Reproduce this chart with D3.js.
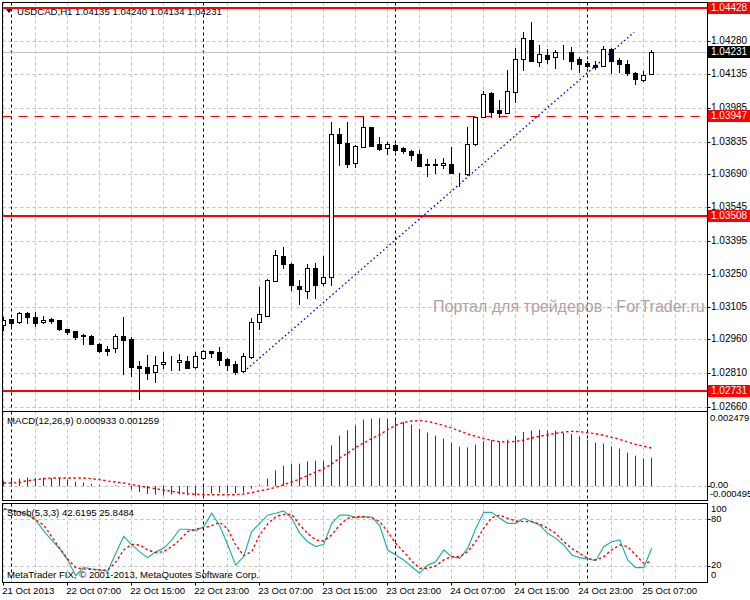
<!DOCTYPE html>
<html><head><meta charset="utf-8">
<script src="https://cdn.jsdelivr.net/npm/d3@7"></script>
<style>
body{margin:0;background:#fff}
svg{display:block}
text{font-family:"Liberation Sans",Arial,sans-serif}
</style>
</head><body>
<svg id="c" width="750" height="600"></svg>
<script>
// ---------- DATA ----------
const symbolTitle = "USDCAD,H1";
const openP  = [1.03023,1.03048,1.03035,1.03075,1.03060,1.03035,1.03051,1.03045,1.03004,1.02996,
                1.02977,1.02975,1.02939,1.02917,1.02920,1.02975,1.02961,1.02842,1.02836,1.02813,
                1.02849,1.02855,1.02858,1.02864,1.02838,1.02878,1.02908,1.02904,1.02873,1.02851,
                1.02820,1.02883,1.03035,1.03064,1.03220,1.03329,1.03294,1.03196,1.03175,1.03274,
                1.03208,1.03237,1.03868,1.03828,1.03739,1.03813,1.03899,1.03825,1.03806,1.03820,
                1.03806,1.03794,1.03780,1.03735,1.03733,1.03730,1.03735,1.03696,1.03690,1.03823,
                1.03943,1.04049,1.03975,1.03961,1.04056,1.04200,1.04285,1.04189,1.04219,1.04208,
                1.04231,1.04231,1.04200,1.04183,1.04174,1.04169,1.04244,1.04196,1.04177,1.04138,
                1.04109,1.04135];
const highP  = [1.03057,1.03050,1.03081,1.03079,1.03080,1.03063,1.03055,1.03047,1.03005,1.02998,
                1.02983,1.02977,1.02945,1.02930,1.02983,1.03060,1.02971,1.02864,1.02890,1.02887,
                1.02904,1.02886,1.02895,1.02886,1.02905,1.02913,1.02910,1.02926,1.02875,1.02864,
                1.02898,1.03053,1.03193,1.03225,1.03356,1.03367,1.03296,1.03223,1.03294,1.03297,
                1.03329,1.03921,1.03894,1.03921,1.03820,1.03949,1.03901,1.03854,1.03835,1.03825,
                1.03810,1.03798,1.03798,1.03758,1.03757,1.03761,1.03813,1.03698,1.03901,1.03944,
                1.04061,1.04056,1.04019,1.04152,1.04248,1.04319,1.04363,1.04263,1.04244,1.04241,
                1.04263,1.04253,1.04211,1.04191,1.04192,1.04258,1.04248,1.04204,1.04196,1.04145,
                1.04148,1.04240];
const lowP   = [1.03001,1.03015,1.03032,1.03033,1.03020,1.03034,1.03033,1.03003,1.02982,1.02960,
                1.02938,1.02937,1.02905,1.02889,1.02905,1.02805,1.02799,1.02694,1.02786,1.02770,
                1.02834,1.02824,1.02824,1.02833,1.02834,1.02873,1.02882,1.02846,1.02824,1.02806,
                1.02816,1.02876,1.03004,1.03062,1.03218,1.03277,1.03178,1.03116,1.03141,1.03144,
                1.03200,1.03200,1.03732,1.03724,1.03724,1.03811,1.03814,1.03798,1.03780,1.03795,
                1.03786,1.03754,1.03728,1.03684,1.03697,1.03720,1.03694,1.03640,1.03689,1.03822,
                1.03942,1.03943,1.03943,1.03960,1.04012,1.04152,1.04192,1.04171,1.04182,1.04160,
                1.04201,1.04157,1.04145,1.04166,1.04155,1.04168,1.04140,1.04145,1.04130,1.04089,
                1.04104,1.04134];
const closeP = [1.03045,1.03033,1.03075,1.03057,1.03033,1.03045,1.03042,1.03004,1.02994,1.02972,
                1.02975,1.02938,1.02909,1.02909,1.02975,1.02956,1.02839,1.02835,1.02809,1.02846,
                1.02859,1.02856,1.02868,1.02834,1.02886,1.02908,1.02898,1.02868,1.02846,1.02816,
                1.02886,1.03035,1.03071,1.03223,1.03331,1.03292,1.03200,1.03181,1.03274,1.03200,
                1.03234,1.03868,1.03828,1.03736,1.03816,1.03901,1.03816,1.03802,1.03823,1.03798,
                1.03795,1.03776,1.03729,1.03733,1.03734,1.03739,1.03695,1.03695,1.03823,1.03943,
                1.04045,1.03968,1.03963,1.04059,1.04200,1.04293,1.04193,1.04223,1.04201,1.04231,
                1.04230,1.04193,1.04179,1.04171,1.04167,1.04244,1.04193,1.04180,1.04140,1.04111,
                1.04129,1.04231];

const macdMain = [0.000167,0.000201,0.000234,0.000279,0.000256,0.000267,0.000256,0.000245,0.000201,0.000134,
                  0.000100,0.000067,0.000022,0.000005,0.000011,-0.000011,-0.000134,-0.000212,-0.000279,-0.000301,
                  -0.000323,-0.000301,-0.000290,-0.000323,-0.000334,-0.000334,-0.000267,-0.000234,-0.000245,-0.000245,
                  -0.000234,-0.000100,0.000020,0.000234,0.000512,0.000668,0.000735,0.000735,0.000813,0.000836,
                  0.000836,0.001348,0.001671,0.001849,0.002016,0.002206,0.002239,0.002261,0.002239,0.002206,
                  0.002128,0.002039,0.001905,0.001771,0.001671,0.001571,0.001437,0.001303,0.001281,0.001370,
                  0.001482,0.001515,0.001482,0.001537,0.001671,0.001794,0.001838,0.001872,0.001838,0.001838,
                  0.001760,0.001727,0.001649,0.001537,0.001437,0.001404,0.001315,0.001237,0.001103,0.001003,
                  0.000913,0.000933];
const macdSignal = [0.000089,0.000089,0.000111,0.000167,0.000201,0.000234,0.000256,0.000256,0.000256,0.000256,
                    0.000256,0.000234,0.000201,0.000156,0.000123,0.000089,0.000033,-0.000011,-0.000056,-0.000100,
                    -0.000145,-0.000189,-0.000234,-0.000267,-0.000290,-0.000301,-0.000301,-0.000301,-0.000301,-0.000301,
                    -0.000279,-0.000234,-0.000167,-0.000123,-0.000056,0.000033,0.000123,0.000223,0.000345,0.000457,
                    0.000568,0.000724,0.000925,0.001092,0.001281,0.001426,0.001571,0.001704,0.001872,0.002016,
                    0.002117,0.002161,0.002172,0.002150,0.002083,0.002016,0.001927,0.001827,0.001727,0.001649,
                    0.001571,0.001515,0.001470,0.001459,0.001482,0.001526,0.001593,0.001649,0.001704,0.001749,
                    0.001794,0.001816,0.001805,0.001771,0.001738,0.001682,0.001615,0.001548,0.001459,0.001381,
                    0.001315,0.001259];

const stochK = [93,91,89.5,86,79,65,53,42,27.5,7.5,
                18,16,15,13.5,36,58,47,38,30.5,38,
                42.5,53,67,67,65,70,87.5,71.5,47,21,
                32,64,74.5,85,87.5,90.5,81,62,51,44.7,
                47.6,74.5,85,85,81.5,83,82.7,71.6,40.4,34,
                27.6,19,10.5,21,25.4,40.4,31.8,29.7,42.5,68,
                88.7,88.7,81,74.6,74.6,81,76.7,72.4,61.8,55.3,
                46.8,34,30.6,28.8,26.7,44.7,51,53.2,27.6,17.7,
                17.7,42.6195];
const stochD = [93,91.7,89.5,85,79,72.4,57.5,42.5,28.8,17.7,
                16,15.6,14.7,14.3,24.6,40.4,47.6,46.8,40.4,37,
                38.2,44.7,53.2,63.9,67.3,69,71.6,75.9,67.3,46.8,
                33.1,38.2,59.6,73.7,83.1,86.1,86.1,72.4,61.8,53.2,
                51.9,59.6,72.4,81,82.9,83.1,81.8,76.7,63.9,48.9,
                38.2,26.3,16.9,16.9,19.9,27.6,31.8,31.8,38.2,51.1,
                68.2,81.8,85.3,81,77.6,76.7,76.7,73.7,68.2,61.8,
                51.1,42.5,36.1,29.7,27.6,31.8,40.4,46.8,44.7,34,
                23.3,25.8484];

const priceTicks = [1.04425,1.04280,1.04135,1.03985,1.03835,1.03690,1.03545,1.03395,1.03250,1.03105,1.02960,1.02810,1.02660];
const macdTickLabels = ["0.002479","0.00","-0.000495"];
const stochLevels = [80,20];
const stochTickLabels = ["100","80","20","0"];
const timeLabels = ["21 Oct 2013","22 Oct 07:00","22 Oct 15:00","22 Oct 23:00","23 Oct 07:00","23 Oct 15:00",
                    "23 Oct 23:00","24 Oct 07:00","24 Oct 15:00","24 Oct 23:00","25 Oct 07:00"];
const timeLabelBars = [0,8,16,24,32,40,48,56,64,72,80];
const daySeparatorBars = [1,25,49,73];
const redLevels = [1.04428,1.03508,1.02731];
const redDashedLevel = 1.03947;
const bidPrice = 1.04231;
const trendLine = [{bar:30,price:1.02816},{bar:78.8,price:1.04319}];
const macdLabel = "MACD(12,26,9) 0.000933 0.001259";
const stochLabel = "Stoch(5,3,3) 42.6195 25.8484";
const copyright = "MetaTrader FIX, \u00a9 2001-2013, MetaQuotes Software Corp.";
const watermark = "Портал для трейдеров - ForTrader.ru";

// ---------- LAYOUT ----------
const svg = d3.select("#c");
const L = 2.5, R = 707.5;
const main = {top:2.5, bottom:411.5};
const mac = {top:411.5, bottom:500.5};
const sto = {top:503.5, bottom:582.5};
const n = closeP.length;
const x = d3.scaleLinear().domain([0, 88]).range([3.7, 707.7]);
const px = i => Math.floor(x(i)) + 0.5;
const yP = d3.scaleLinear().domain([1.026425, 1.04451]).range([411, 2.5]);
const yM = d3.scaleLinear().domain([-0.000495, 0.002479]).range([500.5, 411.5]);
const yS = d3.scaleLinear().domain([0, 100]).range([581.5, 503.5]);
const crisp = v => Math.round(v) + 0.5;
const GRID = "#c0c0c0";

svg.append("rect").attr("width",750).attr("height",600).attr("fill","#fff");

const defs = svg.append("defs");
[["cMain",main],["cMac",mac],["cSto",sto]].forEach(([id,p])=>{
  defs.append("clipPath").attr("id",id).append("rect")
    .attr("x",L).attr("y",p.top).attr("width",R-L).attr("height",p.bottom-p.top);
});

const gridBars = d3.range(0, 88, 4);
function vGrid(g, p){
  g.selectAll(null).data(gridBars).join("line")
    .attr("x1",d=>px(d)).attr("x2",d=>px(d)).attr("y1",p.top).attr("y2",p.bottom)
    .attr("stroke",GRID).attr("stroke-dasharray","3,3");
  g.selectAll(null).data(daySeparatorBars).join("line")
    .attr("x1",d=>px(d)).attr("x2",d=>px(d)).attr("y1",p.top).attr("y2",p.bottom)
    .attr("stroke","#000").attr("stroke-dasharray","3,3");
}

// ---------- MAIN PANEL ----------
const gm = svg.append("g").attr("clip-path","url(#cMain)");
gm.selectAll(null).data(priceTicks).join("line")
  .attr("x1",L).attr("x2",R).attr("y1",d=>crisp(yP(d))).attr("y2",d=>crisp(yP(d)))
  .attr("stroke",GRID).attr("stroke-dasharray","3,3");
vGrid(gm, main);

svg.append("text").attr("x",433).attr("y",yP(1.03105)+1).attr("dominant-baseline","middle")
  .attr("font-size",16).attr("fill","#b0a2a2").text(watermark);

gm.append("line").attr("x1",L).attr("x2",R).attr("y1",crisp(yP(bidPrice))).attr("y2",crisp(yP(bidPrice)))
  .attr("stroke",GRID);
gm.selectAll(null).data(redLevels).join("line")
  .attr("x1",L).attr("x2",R).attr("y1",d=>Math.round(yP(d))).attr("y2",d=>Math.round(yP(d)))
  .attr("stroke","#ff0000").attr("stroke-width",2);
gm.append("line").attr("x1",L).attr("x2",R)
  .attr("y1",crisp(yP(redDashedLevel))).attr("y2",crisp(yP(redDashedLevel)))
  .attr("stroke","#ff0000").attr("stroke-width",1.2).attr("stroke-dasharray","9,7");
gm.append("line")
  .attr("x1",x(trendLine[0].bar)).attr("y1",yP(trendLine[0].price))
  .attr("x2",x(trendLine[1].bar)).attr("y2",yP(trendLine[1].price))
  .attr("stroke","#0000cd").attr("stroke-width",1.3).attr("stroke-dasharray","1.6,2.6");

const idx = d3.range(n);
const gc = gm.append("g");
gc.selectAll(null).data(idx).join("line")
  .attr("x1",px).attr("x2",px)
  .attr("y1",i=>Math.round(yP(highP[i]))).attr("y2",i=>Math.round(yP(lowP[i]))+1)
  .attr("stroke","#000");
gc.selectAll(null).data(idx).join("rect")
  .attr("x",i=>px(i)-2)
  .attr("width",4)
  .attr("y",i=>Math.round(yP(Math.max(openP[i],closeP[i])))+0.5)
  .attr("height",i=>Math.max(0, Math.round(yP(Math.min(openP[i],closeP[i]))) - Math.round(yP(Math.max(openP[i],closeP[i])))))
  .attr("fill",i=>closeP[i]>=openP[i]?"#fff":"#000")
  .attr("stroke","#000");

svg.append("path").attr("d","M6,9 L12,9 L9,13 Z").attr("fill","#000");
svg.append("text").attr("x",17).attr("y",12).attr("dominant-baseline","middle")
  .attr("font-size",9.6).attr("fill","#000")
  .text(`${symbolTitle} ${openP[n-1].toFixed(5)} ${highP[n-1].toFixed(5)} ${lowP[n-1].toFixed(5)} ${closeP[n-1].toFixed(5)}`);

// ---------- MACD PANEL ----------
const gM = svg.append("g").attr("clip-path","url(#cMac)");
gM.append("line").attr("x1",L).attr("x2",R).attr("y1",crisp(yM(0))).attr("y2",crisp(yM(0)))
  .attr("stroke",GRID).attr("stroke-dasharray","3,3");
vGrid(gM, mac);
gM.selectAll(null).data(idx).join("line")
  .attr("x1",i=>Math.floor(x(i))+0.5).attr("x2",i=>Math.floor(x(i))+0.5)
  .attr("y1",Math.round(yM(0))).attr("y2",i=>yM(macdMain[i]))
  .attr("stroke","#006400").attr("stroke-width",1);
gM.append("path").datum(idx)
  .attr("d",d3.line().x(i=>x(i)).y(i=>yM(macdSignal[i])))
  .attr("fill","none").attr("stroke","#ff0000").attr("stroke-width",1.4).attr("stroke-dasharray","2.5,2.5");
svg.append("text").attr("x",7).attr("y",421).attr("dominant-baseline","middle")
  .attr("font-size",9.6).text(macdLabel);

// ---------- STOCH PANEL ----------
const gS = svg.append("g").attr("clip-path","url(#cSto)");
gS.selectAll(null).data(stochLevels).join("line")
  .attr("x1",L).attr("x2",R).attr("y1",d=>crisp(yS(d))).attr("y2",d=>crisp(yS(d)))
  .attr("stroke",GRID).attr("stroke-dasharray","3,3");
vGrid(gS, sto);
gS.append("path").datum(idx)
  .attr("d",d3.line().x(i=>x(i)).y(i=>yS(stochK[i])))
  .attr("fill","none").attr("stroke","#20b2aa").attr("stroke-width",1.2);
gS.append("path").datum(idx)
  .attr("d",d3.line().x(i=>x(i)).y(i=>yS(stochD[i])))
  .attr("fill","none").attr("stroke","#ff0000").attr("stroke-width",1.4).attr("stroke-dasharray","2.5,2.5");
svg.append("text").attr("x",7).attr("y",513).attr("dominant-baseline","middle")
  .attr("font-size",9.6).text(stochLabel);
svg.append("text").attr("x",7).attr("y",575.5).attr("dominant-baseline","middle")
  .attr("font-size",9.6).text(copyright);

// ---------- FRAMES ----------
[main,mac,sto].forEach(p=>{
  svg.append("rect").attr("x",L).attr("y",p.top).attr("width",R-L).attr("height",p.bottom-p.top)
    .attr("fill","none").attr("stroke","#000");
});

// ---------- RIGHT AXES ----------
const ga = svg.append("g").attr("font-size",10).attr("fill","#000");
priceTicks.forEach(v=>{
  const yy = crisp(yP(v));
  ga.append("line").attr("x1",R).attr("x2",R+3).attr("y1",yy).attr("y2",yy).attr("stroke","#000");
  ga.append("text").attr("x",711).attr("y",yy).attr("dominant-baseline","middle").text(v.toFixed(5));
});
function priceBox(v, color){
  const yy = Math.round(yP(v));
  ga.append("rect").attr("x",708).attr("y",yy-6).attr("width",42).attr("height",12).attr("fill",color);
  ga.append("text").attr("x",711).attr("y",yy).attr("dominant-baseline","middle").attr("fill","#fff").text(v.toFixed(5));
}
redLevels.forEach(v=>priceBox(v,"#ff0000"));
priceBox(redDashedLevel,"#ff0000");
priceBox(bidPrice,"#000");

const macdLabelY = [mac.top+7, yM(0), yM(0)+9];
macdTickLabels.forEach((t,k)=>{
  ga.append("text").attr("x",710).attr("y",macdLabelY[k]).attr("dominant-baseline","middle")
    .attr("font-size",9.4).text(t);
});
ga.append("line").attr("x1",R).attr("x2",R+3).attr("y1",crisp(yM(0))).attr("y2",crisp(yM(0))).attr("stroke","#000");
const stochLabelY = [sto.top+6.5, yS(80), yS(20), sto.bottom-7];
stochTickLabels.forEach((t,k)=>{
  ga.append("text").attr("x",711).attr("y",stochLabelY[k]).attr("dominant-baseline","middle")
    .attr("font-size",9.4).text(t);
});
stochLevels.forEach(v=>ga.append("line").attr("x1",R).attr("x2",R+3).attr("y1",crisp(yS(v))).attr("y2",crisp(yS(v))).attr("stroke","#000"));

// ---------- TIME AXIS ----------
const gt = svg.append("g").attr("font-size",9.6).attr("fill","#000");
timeLabelBars.forEach((b,k)=>{
  gt.append("line").attr("x1",px(b)).attr("x2",px(b)).attr("y1",sto.bottom).attr("y2",sto.bottom+3).attr("stroke","#000");
  gt.append("text").attr("x",x(b)-1.5).attr("y",591.5).attr("dominant-baseline","middle").text(timeLabels[k]);
});
</script>
</body></html>
